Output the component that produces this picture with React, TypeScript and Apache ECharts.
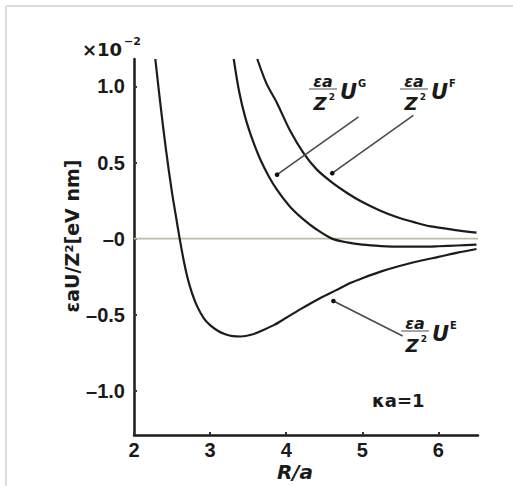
import React, { useEffect, useRef } from "react";
import * as echarts from "echarts";

const xTicks = [2, 3, 4, 5, 6];
const yTicks = [-1, -0.5, 0, 0.5, 1];
const yTickText: Record<string, string> = { "-1": "–1.0", "-0.5": "–0.5", "0": "–0", "0.5": "0.5", "1": "1.0" };

const eX = [2.28, 2.35, 2.42, 2.5, 2.55, 2.6, 2.65, 2.7, 2.76, 2.83, 2.92, 3.0, 3.1, 3.2, 3.3, 3.4, 3.55, 3.7, 3.85, 4.0, 4.2, 4.45, 4.65, 4.85, 5.0, 5.25, 5.5, 5.75, 6.0, 6.25, 6.5];
const eY = [1.18, 0.87, 0.585, 0.3, 0.15, 0.0, -0.135, -0.25, -0.355, -0.445, -0.525, -0.568, -0.605, -0.628, -0.641, -0.643, -0.63, -0.6, -0.565, -0.52, -0.46, -0.39, -0.34, -0.29, -0.26, -0.215, -0.178, -0.147, -0.12, -0.092, -0.068];
const gX = [3.31, 3.38, 3.46, 3.56, 3.66, 3.77, 3.88, 4.05, 4.23, 4.4, 4.6, 4.8, 5.0, 5.25, 5.5, 5.75, 6.0, 6.25, 6.5];
const gY = [1.18, 0.97, 0.8, 0.645, 0.52, 0.41, 0.32, 0.21, 0.125, 0.06, 0.0, -0.025, -0.04, -0.049, -0.053, -0.053, -0.05, -0.045, -0.04];
const fX = [3.62, 3.74, 3.88, 4.05, 4.23, 4.4, 4.6, 4.8, 5.0, 5.23, 5.46, 5.7, 5.9, 6.2, 6.5];
const fY = [1.18, 1.02, 0.89, 0.71, 0.56, 0.455, 0.37, 0.3, 0.24, 0.185, 0.14, 0.105, 0.08, 0.058, 0.04];
const zeroX = [2, 6.52];
const zeroY = [0, 0];

// annotation pointers: [dotX, dotY, endX, endY] in data units
const pointerG = [3.88, 0.42, 4.95, 0.8];
const pointerF = [4.605, 0.43, 5.67, 0.81];
const pointerE = [4.62, -0.41, 5.53, -0.64];

const FONT = "'Liberation Sans', Arial, sans-serif";
const WIDE = "'DejaVu Sans', sans-serif";

const zip = (xs: number[], ys: number[]) => xs.map((x, i) => [x, ys[i]]);

export default function App() {
  const ref = useRef<HTMLDivElement>(null);
  useEffect(() => {
    if (!ref.current) return;
    const chart = echarts.init(ref.current, null, { renderer: "svg" });
    const lineStyle = { color: "#1c1c1c", width: 2.2 };
    chart.setOption({
      animation: false,
      backgroundColor: "#ffffff",
      grid: { left: 134, top: 59, width: 344, height: 376 },
      xAxis: {
        type: "value",
        min: 2,
        max: 6.52,
        axisLine: { onZero: false, lineStyle: { color: "#1a1a1a", width: 2.5 } },
        axisTick: { show: true, inside: true, length: 3, customValues: xTicks, lineStyle: { color: "#333", width: 2 } },
        axisLabel: { customValues: xTicks, fontSize: 20, fontWeight: "bold", color: "#1a1a1a", margin: 5, fontFamily: FONT },
        splitLine: { show: false },
      },
      yAxis: {
        type: "value",
        min: -1.29,
        max: 1.18,
        axisLine: { show: true, onZero: false, lineStyle: { color: "#1a1a1a", width: 2.5 } },
        axisTick: { show: true, inside: true, length: 3, customValues: yTicks, lineStyle: { color: "#333", width: 2 } },
        axisLabel: {
          customValues: yTicks,
          fontSize: 20,
          fontWeight: "bold",
          color: "#1a1a1a",
          margin: 9,
          fontFamily: FONT,
          formatter: (v: number) => yTickText[String(v)] ?? String(v),
        },
        splitLine: { show: false },
      },
      series: [
        { type: "line", data: zip(zeroX, zeroY), showSymbol: false, lineStyle: { color: "#bdbda8", width: 1.6 }, z: 1 },
        { type: "line", data: zip(eX, eY), smooth: 0.3, showSymbol: false, lineStyle, z: 3 },
        { type: "line", data: zip(gX, gY), smooth: 0.3, showSymbol: false, lineStyle, z: 3 },
        { type: "line", data: zip(fX, fY), smooth: 0.3, showSymbol: false, lineStyle, z: 3 },
      ],
    });

    const px = (x: number, y: number) => chart.convertToPixel({ gridIndex: 0 }, [x, y]) as number[];
    const pointer = (p: number[]) => {
      const a = px(p[0], p[1]);
      const b = px(p[2], p[3]);
      return [
        { type: "line", shape: { x1: a[0], y1: a[1], x2: b[0], y2: b[1] }, style: { stroke: "#4a4a4a", lineWidth: 1.6 }, z: 10 },
        { type: "circle", shape: { cx: a[0], cy: a[1], r: 2.3 }, style: { fill: "#111" }, z: 11 },
      ];
    };
    const txt = (text: string, x: number, y: number, font: string, align = "center") => ({
      type: "text",
      z: 12,
      style: { text, x, y, font, fill: "#1a1a1a", textAlign: align, textVerticalAlign: "middle" },
    });
    const label = (cx: number, cy: number, sup: string) => [
      txt("εa", cx, cy - 8, `italic bold 16px ${WIDE}`),
      { type: "line", shape: { x1: cx - 14, y1: cy, x2: cx + 14, y2: cy }, style: { stroke: "#888", lineWidth: 1.5 }, z: 12 },
      txt("Z", cx - 3, cy + 14, `italic bold 18px ${WIDE}`),
      txt("2", cx + 9, cy + 8, `bold 9px ${WIDE}`),
      txt("U", cx + 17, cy + 3, `italic bold 21px ${WIDE}`, "left"),
      txt(sup, cx + 35, cy - 6, `bold 10px ${WIDE}`, "left"),
    ];

    chart.setOption({
      graphic: [
        { type: "line", shape: { x1: 6, y1: 6, x2: 513, y2: 6 }, style: { stroke: "#dcdcdc", lineWidth: 2 } },
        { type: "line", shape: { x1: 6, y1: 6, x2: 6, y2: 486 }, style: { stroke: "#dcdcdc", lineWidth: 2 } },
        txt("×10", 82, 49, `bold 18px ${WIDE}`, "left"),
        txt("−2", 124, 41, `bold 11px ${WIDE}`, "left"),
        {
          type: "text",
          x: 72,
          y: 236,
          rotation: Math.PI / 2,
          style: { text: "εaU/Z²[eV nm]", x: 0, y: 0, font: `bold 19px ${WIDE}`, fill: "#1a1a1a", textAlign: "center", textVerticalAlign: "middle" },
        },
        txt("R/a", 295, 472, `italic bold 20px ${WIDE}`),
        txt("κa=1", 372, 400, `bold 18px ${WIDE}`, "left"),
        ...pointer(pointerG),
        ...pointer(pointerF),
        ...pointer(pointerE),
        ...label(323, 89, "G"),
        ...label(414, 89, "F"),
        ...label(415, 331, "E"),
      ],
    });
    return () => chart.dispose();
  }, []);
  return <div ref={ref} style={{ position: "absolute", left: 0, top: 0, width: 513, height: 486 }} />;
}
